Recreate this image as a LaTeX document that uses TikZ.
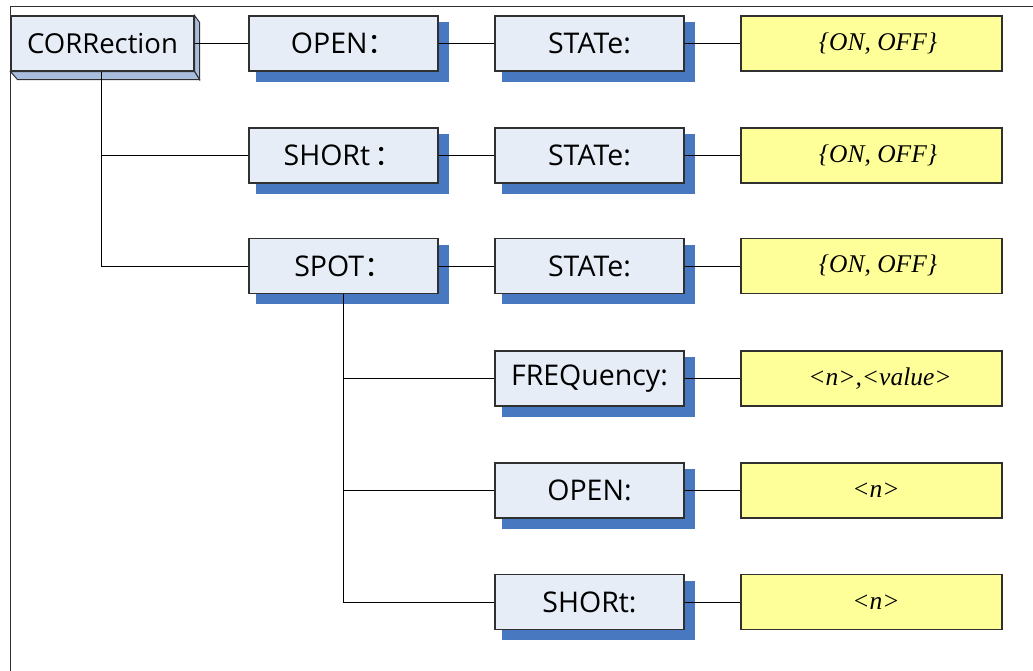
\documentclass[tikz,border=0pt]{standalone}
\usepackage{fontspec}
\setmainfont{Liberation Serif}
\newfontfamily\sansf{Open Sans}
\newfontfamily\cjkf{Noto Sans CJK SC}
\usetikzlibrary{backgrounds}
\definecolor{boxfill}{HTML}{E6EDF7}
\definecolor{shadowblue}{HTML}{4878C0}
\definecolor{sidefill}{HTML}{A9BEDF}
\definecolor{valfill}{HTML}{FFFF99}
\definecolor{edgegray}{HTML}{303030}
\tikzset{
  x=1pt, y=-1pt,
  bluebox/.style={draw=edgegray, line width=1.1pt, fill=boxfill, rectangle, inner sep=0pt,
    minimum width=189pt, minimum height=55pt,
    font=\sansf\fontsize{28.5}{31}\selectfont},
  valbox/.style={draw=edgegray, line width=1.1pt, fill=valfill, rectangle, inner sep=0pt,
    minimum width=261pt, minimum height=55pt},
  valtext/.style={font=\itshape\fontsize{25.5}{28}\selectfont, inner sep=0pt},
  conn/.style={draw=black, line width=0.9pt},
  shadowbox/.style={fill=shadowblue}
}
\newcommand{\fwc}{{\cjkf ：}\hspace{-14pt}}
\begin{document}
\begin{tikzpicture}
\useasboundingbox (0,0) rectangle (1033,671);
% frame
\draw[line width=1pt, draw=edgegray] (10,671) -- (10,7) -- (1033,7);

% column 1
\node[bluebox, minimum width=183pt, font=\sansf\fontsize{27.5}{30}\selectfont] (corr) at (102.5,43.5) {CORRection};
% column 2
\node[bluebox] (open1) at (343.5,43.5) {OPEN\fwc};
\node[bluebox] (short1) at (343.5,155.5) {SHORt\,\fwc};
\node[bluebox] (spot) at (343.5,266) {SPOT\fwc};
% column 3
\node[bluebox] (state1) at (589.5,43.5) {STATe:};
\node[bluebox] (state2) at (589.5,155.5) {STATe:};
\node[bluebox] (state3) at (589.5,266) {STATe:};
\node[bluebox] (freq) at (589.5,378.5) {FREQuency:};
\node[bluebox] (open2) at (589.5,490.5) {OPEN:};
\node[bluebox] (short2) at (589.5,602) {SHORt:};
% column 4
\node[valbox] (val1) at (871.5,43.5) {};
\node[valbox] (val2) at (871.5,155.5) {};
\node[valbox] (val3) at (871.5,266) {};
\node[valbox] (val4) at (871.5,378.5) {};
\node[valbox] (val5) at (871.5,490.5) {};
\node[valbox] (val6) at (871.5,602) {};
\node[valtext] (t1) at (878,43.5) {\{ON, OFF\}};
\node[valtext] (t2) at (878,155.5) {\{ON, OFF\}};
\node[valtext] (t3) at (878,266) {\{ON, OFF\}};
\node[valtext] (t4) at (880,378.5) {<n>,<value>};
\node[valtext] (t5) at (876,490.5) {<n>};
\node[valtext] (t6) at (876,602) {<n>};

\coordinate (trunkA) at (101,0);
\coordinate (trunkB) at (343,0);

\begin{scope}[on background layer]
  % 3D faces of CORRection
  \filldraw[fill=sidefill, draw=edgegray, line width=1pt]
    (corr.north east) -- ++(5,7) -- ([xshift=5pt,yshift=-8pt]corr.south east) -- (corr.south east) -- cycle;
  \filldraw[fill=sidefill, draw=edgegray, line width=1pt]
    (corr.south west) -- ++(7,8) -- ([xshift=5pt,yshift=-8pt]corr.south east) -- (corr.south east) -- cycle;
  % shadows
  \foreach \n in {open1,short1,spot,state1,state2,state3,freq,open2,short2}{
    \fill[shadowbox] ([xshift=8pt,yshift=-7pt]\n.north west) rectangle ([xshift=10pt,yshift=-10pt]\n.south east);
  }
  % connectors
  \draw[conn] (corr.east) -- (open1.west);
  \draw[conn] (open1.east) -- (state1.west);
  \draw[conn] (state1.east) -- (val1.west);
  \draw[conn] (short1.east) -- (state2.west);
  \draw[conn] (state2.east) -- (val2.west);
  \draw[conn] (spot.east) -- (state3.west);
  \draw[conn] (state3.east) -- (val3.west);
  \draw[conn] (freq.east) -- (val4.west);
  \draw[conn] (open2.east) -- (val5.west);
  \draw[conn] (short2.east) -- (val6.west);
  \draw[conn] (trunkA |- corr.south) |- (short1.west);
  \draw[conn] (trunkA |- corr.south) |- (spot.west);
  \draw[conn] (trunkB |- spot.south) |- (freq.west);
  \draw[conn] (trunkB |- spot.south) |- (open2.west);
  \draw[conn] (trunkB |- spot.south) |- (short2.west);
\end{scope}
\end{tikzpicture}
\end{document}
